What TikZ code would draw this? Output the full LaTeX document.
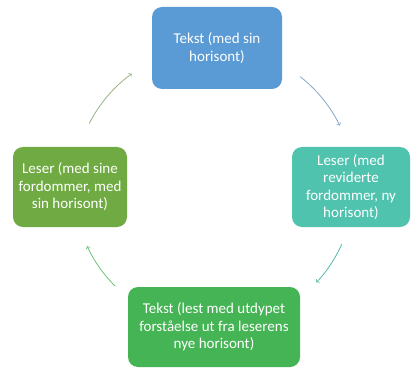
\documentclass[tikz,border=0pt]{standalone}
\usepackage{fontspec}
\setmainfont{Carlito}
\usepackage{tikz}
\usetikzlibrary{calc}

\definecolor{blaa}{HTML}{5B9BD5}
\definecolor{turkis}{HTML}{4FC3AE}
\definecolor{gronn}{HTML}{45B454}
\definecolor{lysgronn}{HTML}{6FAB42}

\tikzset{
  boks/.style={rounded corners=10pt, text=white, align=center, inner sep=0pt,
    font=\fontsize{15}{17.5}\selectfont},
  pil/.style={->, >=to, line width=0.8pt}
}

\begin{document}
\begin{tikzpicture}[x=1pt, y=1pt]
\useasboundingbox (0,0) rectangle (411,367);
% boksene
\node[boks, fill=blaa, minimum width=130pt, minimum height=82pt] (tekst) at (217,319) {Tekst (med sin\\horisont)};
\node[boks, fill=turkis, minimum width=118pt, minimum height=80pt] (leserny) at (351,180) {Leser (med\\reviderte\\fordommer, ny\\horisont)};
\node[boks, fill=gronn, minimum width=172pt, minimum height=80pt] (tekstny) at (214,40) {Tekst (lest med utdypet\\forståelse ut fra leserens\\nye horisont)};
\node[boks, fill=lysgronn, minimum width=114pt, minimum height=80pt] (leser) at (70,180) {Leser (med sine\\fordommer, med\\sin horisont)};
% pilene rundt sirkelen
\coordinate (m) at (214,180);
\coordinate (p1) at ($(m)+(52:140)$);
\coordinate (p2) at ($(m)+(-24:140)$);
\coordinate (p3) at ($(m)+(-135:140)$);
\coordinate (p4) at ($(m)+(153:140)$);
\draw[pil, color=blaa!70!gray!80] (p1) arc[start angle=52, end angle=26, radius=140];
\draw[pil, color=turkis!85!gray] (p2) arc[start angle=-24, end angle=-43, radius=140];
\draw[pil, color=gronn!80!white] (p3) arc[start angle=-135, end angle=-155, radius=140];
\draw[pil, color=lysgronn!60!gray!75] (p4) arc[start angle=153, end angle=126, radius=140];
\end{tikzpicture}
\end{document}
